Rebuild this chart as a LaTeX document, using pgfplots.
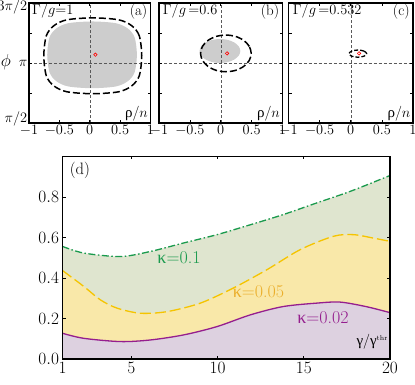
\documentclass[border=0pt]{standalone}
\usepackage{fontspec}
\usepackage{pgfplots}
\usepackage{pgfplotstable}
\pgfplotsset{compat=1.18}
\newfontfamily\grk{Liberation Serif}

\definecolor{cgreen}{HTML}{1A9A4D}
\definecolor{cyellow}{HTML}{F5C400}
\definecolor{corange}{HTML}{EBAE2A}
\definecolor{cpurple}{HTML}{951E8E}
\definecolor{fgreen}{HTML}{DFE5CF}
\definecolor{fyellow}{HTML}{F9E8A9}
\definecolor{fpurple}{HTML}{DDD1E0}
\definecolor{shade}{HTML}{CDCDCD}

% boundary curves Gamma/g vs gamma/gamma^thr
\pgfplotstableread{
x y
1 0.556
2.24 0.523
4.37 0.506
6.1 0.531
8.03 0.573
9.96 0.614
11.9 0.663
13.8 0.713
15.76 0.771
17.7 0.828
20 0.906
}\kapA
\pgfplotstableread{
x y
1 0.437
2.24 0.358
3.2 0.292
4.17 0.251
5.52 0.226
7.07 0.234
9.0 0.276
10.9 0.350
12.86 0.441
14.79 0.540
16.72 0.606
17.88 0.614
19.04 0.597
20 0.581
}\kapB
\pgfplotstableread{
x y
1 0.127
2.24 0.102
4.37 0.086
6.1 0.094
8.03 0.119
9.96 0.160
11.9 0.218
13.8 0.259
15.76 0.276
17.1 0.281
18.6 0.259
20 0.229
}\kapC

\tikzset{
  tag/.style={font=\fontsize{15}{17}\selectfont, inner sep=0pt},
  grid line/.style={gray!70!black, line width=0.5pt, dash pattern=on 3pt off 2pt},
}
\pgfplotsset{
  frame/.style={
    scale only axis, anchor=south west, axis on top,
    tick align=inside, major tick length=3pt,
    axis line style={line width=1.1pt},
    tick style={black, line width=0.7pt},
  },
  panel/.style={
    frame, height=120pt,
    xmin=-1, xmax=1, ymin=0.5, ymax=1.5,
    xtick={-1,-0.5,0,0.5,1},
    ytick={0.5,0.75,1,1.25,1.5},
    yticklabels={},
    xticklabel style={font=\fontsize{15}{17}\selectfont, inner ysep=2pt},
    yticklabel style={font=\fontsize{15}{17}\selectfont, inner xsep=1.5pt},
  },
  contour/.style={black, line width=1.5pt, dash pattern=on 7pt off 3pt, smooth cycle},
  centre/.style={only marks, mark=o, red, mark size=1.7pt, mark options={line width=0.6pt}},
}

\begin{document}
\begin{tikzpicture}

% (a)
\begin{axis}[panel, at={(29pt,262pt)}, width=121.5pt,
  yticklabels={\smash{$\pi/2$},,$\pi$,,\smash{\raisebox{-7.5pt}{$3\pi/2$}}}]
\addplot[fill=shade, draw=none, smooth cycle] coordinates {
(0.776,1.068) (0.738,1.2145) (0.624,1.2886) (0.427,1.3317) (0.038,1.346)
(-0.351,1.3317) (-0.548,1.2886) (-0.662,1.2145) (-0.700,1.068)
(-0.662,0.9215) (-0.548,0.8474) (-0.351,0.8043) (0.038,0.790)
(0.427,0.8043) (0.624,0.8474) (0.738,0.9215)};
\addplot[grid line] coordinates {(0,0.5) (0,1.5)};
\addplot[grid line] coordinates {(-1,1) (1,1)};
\addplot[contour] coordinates {
(0.856,1.06) (0.815,1.227) (0.690,1.311) (0.475,1.360) (0.05,1.376)
(-0.375,1.360) (-0.590,1.311) (-0.715,1.227) (-0.756,1.06)
(-0.715,0.893) (-0.590,0.809) (-0.375,0.760) (0.05,0.744)
(0.475,0.760) (0.690,0.809) (0.815,0.893)};
\addplot[centre] coordinates {(0.093,1.069)};
\node[tag, anchor=west] at (axis description cs:0.025,0.93) {$\Gamma/g{=}1$};
\node[tag, anchor=east] at (axis description cs:0.975,0.93) {(a)};
\node[tag, anchor=east] at (axis description cs:0.98,0.08) {{\grk ρ}/$n$};
\end{axis}

% (b)
\begin{axis}[panel, at={(159pt,262pt)}, width=123.5pt]
\addplot[fill=shade, draw=none, smooth cycle] coordinates {
(0.317,1.10) (0.292,1.1383) (0.220,1.1707) (0.113,1.1924) (-0.013,1.2)
(-0.139,1.1924) (-0.246,1.1707) (-0.318,1.1383) (-0.343,1.10)
(-0.318,1.0617) (-0.246,1.0293) (-0.139,1.0076) (-0.013,1.0)
(0.113,1.0076) (0.220,1.0293) (0.292,1.0617)};
\addplot[grid line] coordinates {(0,0.5) (0,1.5)};
\addplot[grid line] coordinates {(-1,1) (1,1)};
\addplot[contour] coordinates {
(0.493,1.08) (0.462,1.1386) (0.373,1.188) (0.240,1.2214) (0.083,1.233)
(-0.074,1.2214) (-0.207,1.188) (-0.296,1.1386) (-0.327,1.08)
(-0.296,1.0214) (-0.207,0.972) (-0.074,0.9386) (0.083,0.927)
(0.240,0.9386) (0.373,0.972) (0.462,1.0214)};
\addplot[centre] coordinates {(0.102,1.08)};
\node[tag, anchor=west] at (axis description cs:0.03,0.93) {$\Gamma/g\,{=}0.6$};
\node[tag, anchor=east] at (axis description cs:0.975,0.93) {(b)};
\node[tag, anchor=east] at (axis description cs:0.98,0.08) {{\grk ρ}/$n$};
\end{axis}

% (c)
\begin{axis}[panel, at={(288.5pt,262pt)}, width=124.5pt]
\addplot[grid line] coordinates {(0,0.5) (0,1.5)};
\addplot[grid line] coordinates {(-1,1) (1,1)};
\addplot[contour, line width=1.3pt, dash pattern=on 4pt off 2pt] coordinates {
(0.256,1.078) (0.214,1.099) (0.114,1.108) (0.014,1.099)
(-0.028,1.078) (0.014,1.057) (0.114,1.048) (0.214,1.057)};
\addplot[centre] coordinates {(0.133,1.08)};
\node[tag, anchor=west] at (axis description cs:0.034,0.93) {$\Gamma/g\,{=}0.532$};
\node[tag, anchor=east] at (axis description cs:0.975,0.93) {(c)};
\node[tag, anchor=east] at (axis description cs:0.98,0.08) {{\grk ρ}/$n$};
\end{axis}

\node[font=\fontsize{16}{18}\selectfont] at (6pt,323pt) {$\phi$};

% (d)
\begin{axis}[frame, at={(62.5pt,26pt)}, width=327.5pt, height=202.5pt,
  xmin=1, xmax=20, ymin=0, ymax=1.0,
  xtick={1,5,10,15,20}, ytick={0,0.2,0.4,0.6,0.8},
  xticklabel style={font=\fontsize{16.5}{18}\selectfont},
  yticklabel style={font=\fontsize{16.5}{18}\selectfont,
    /pgf/number format/fixed, /pgf/number format/fixed zerofill,
    /pgf/number format/precision=1},
]
\addplot[fill=fgreen, draw=none, smooth] table {\kapA} \closedcycle;
\addplot[fill=fyellow, draw=none, smooth] table {\kapB} \closedcycle;
\addplot[fill=fpurple, draw=none, smooth] table {\kapC} \closedcycle;
\addplot[cgreen, line width=1.3pt, smooth, dash pattern=on 7pt off 2.5pt on 1.5pt off 2.5pt] table {\kapA};
\addplot[cyellow, line width=1.3pt, smooth, dash pattern=on 11pt off 4pt] table {\kapB};
\addplot[cpurple, line width=1.3pt, smooth] table {\kapC};
\node[font=\fontsize{18}{20}\selectfont, text=cgreen] at (axis cs:7.76,0.499) {{\grk κ}=0.1};
\node[font=\fontsize{18}{20}\selectfont, text=corange] at (axis cs:12.37,0.332) {{\grk κ}=0.05};
\node[font=\fontsize{18}{20}\selectfont, text=cpurple] at (axis cs:16.11,0.202) {{\grk κ}=0.02};
\node[font=\fontsize{19}{21}\selectfont] at (axis description cs:-0.069,0.968) {$\Gamma/g$};
\node[tag, font=\fontsize{16.5}{18}\selectfont] at (axis description cs:0.053,0.933) {(d)};
\node[tag] at (axis description cs:0.945,0.084) {{\grk γ}/{\grk γ}\raisebox{5pt}{\fontsize{7}{8}\selectfont thr}};
\end{axis}

\pgfresetboundingbox
\path[use as bounding box] (0pt,0pt) rectangle (415pt,385pt);
\end{tikzpicture}
\end{document}
